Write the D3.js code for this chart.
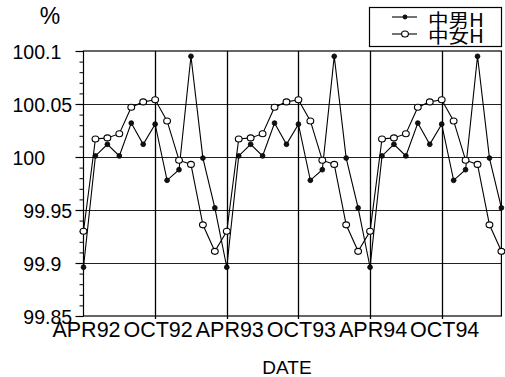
<!DOCTYPE html>
<html>
<head>
<meta charset="utf-8">
<script src="https://cdn.jsdelivr.net/npm/d3@7"></script>
<style>
  html, body { margin: 0; padding: 0; background: #fff; }
  svg { display: block; font-family: "Liberation Sans", Arial, sans-serif; }
</style>
</head>
<body>
<svg id="chart" width="505" height="377"></svg>
<script>
// Monthly index, APR92 .. MAR95 (36 months)
const months = ["APR92","MAY92","JUN92","JUL92","AUG92","SEP92","OCT92","NOV92","DEC92","JAN93","FEB93","MAR93",
                "APR93","MAY93","JUN93","JUL93","AUG93","SEP93","OCT93","NOV93","DEC93","JAN94","FEB94","MAR94",
                "APR94","MAY94","JUN94","JUL94","AUG94","SEP94","OCT94","NOV94","DEC94","JAN95","FEB95","MAR95"];

// 中男H (filled markers)
const maleH = [99.896, 100.001, 100.012, 100.001, 100.032, 100.012, 100.031, 99.978, 99.988, 100.095, 99.999, 99.952,
               99.896, 100.001, 100.012, 100.001, 100.032, 100.012, 100.031, 99.978, 99.988, 100.095, 99.999, 99.952,
               99.896, 100.001, 100.012, 100.001, 100.032, 100.012, 100.031, 99.978, 99.988, 100.095, 99.999, 99.952];

// 中女H (open markers)
const femaleH = [99.930, 100.017, 100.018, 100.022, 100.047, 100.052, 100.054, 100.034, 99.997, 99.993, 99.936, 99.911,
                 99.930, 100.017, 100.018, 100.022, 100.047, 100.052, 100.054, 100.034, 99.997, 99.993, 99.936, 99.911,
                 99.930, 100.017, 100.018, 100.022, 100.047, 100.052, 100.054, 100.034, 99.997, 99.993, 99.936, 99.911];

const xTickMonths = ["APR92","OCT92","APR93","OCT93","APR94","OCT94"];
const yTicks = [99.85, 99.9, 99.95, 100, 100.05, 100.1];
const yTickLabels = ["99.85", "99.9", "99.95", "100", "100.05", "100.1"];
const seriesNames = ["中男H", "中女H"];

const svg = d3.select("#chart");
const L = 83.5, R = 501.4, T = 51, B = 316;

const x = d3.scaleLinear().domain([0, months.length - 1]).range([L, R]);
const y = d3.scaleLinear().domain([99.85, 100.1]).range([B, T]);

const xTickIdx = xTickMonths.map(m => months.indexOf(m));

// horizontal grid
svg.append("g").selectAll("line")
  .data(yTicks.filter(v => v > 99.85 && v < 100.1))
  .join("line")
  .attr("x1", L).attr("x2", R)
  .attr("y1", d => Math.round(y(d)) + 0.5).attr("y2", d => Math.round(y(d)) + 0.5)
  .attr("stroke", "#222").attr("stroke-width", 1);

// vertical grid with small ticks below the frame
svg.append("g").selectAll("line")
  .data(xTickIdx.slice(1))
  .join("line")
  .attr("x1", d => Math.round(x(d)) + 0.5).attr("x2", d => Math.round(x(d)) + 0.5)
  .attr("y1", T).attr("y2", B + 3)
  .attr("stroke", "#000").attr("stroke-width", 1.3);

// frame
svg.append("rect")
  .attr("x", L).attr("y", T).attr("width", R - L).attr("height", B - T)
  .attr("fill", "none").attr("stroke", "#000").attr("stroke-width", 1.2);

// left axis with minor ticks every 0.01
const yAxis = d3.axisLeft(y).tickValues(yTicks).tickSize(8).tickFormat("");
const gy = svg.append("g").attr("transform", `translate(${L},0)`).call(yAxis);
gy.select(".domain").remove();
gy.selectAll(".tick line").attr("stroke", "#000").attr("stroke-width", 1.2);
const minor = d3.range(0, 26).map(i => +(99.85 + i * 0.01).toFixed(2));
svg.append("g").attr("transform", `translate(${L},0)`)
  .call(d3.axisLeft(y).tickValues(minor).tickSize(4).tickFormat(""))
  .call(g => g.select(".domain").remove())
  .selectAll(".tick line").attr("stroke", "#000");

// y tick labels aligned on the decimal point (slightly narrowed glyphs)
const decX = 45;
const yl = svg.append("g").attr("font-size", 21).attr("fill", "#000");
yTickLabels.forEach((lab, i) => {
  const parts = lab.split(".");
  const g = yl.append("g")
    .attr("transform", `translate(${decX},${y(yTicks[i]) + 7.5}) scale(0.93,1)`);
  g.append("text").attr("x", 0).attr("y", 0).attr("text-anchor", "end").text(parts[0]);
  if (parts.length > 1) {
    g.append("text").attr("x", 0).attr("y", 0).attr("text-anchor", "start").text("." + parts[1]);
  }
});

// bottom axis labels
svg.append("g").selectAll("text")
  .data(xTickIdx)
  .join("text")
  .attr("x", (d) => x(d) + 3)
  .attr("y", 337)
  .attr("text-anchor", "middle")
  .attr("font-size", 21.5)
  .text((d, i) => xTickMonths[i]);

// axis titles
svg.append("text").attr("x", 287).attr("y", 374).attr("text-anchor", "middle")
  .attr("font-size", 19).text("DATE");
svg.append("text").attr("x", 50).attr("y", 24).attr("text-anchor", "middle")
  .attr("font-size", 23).text("%");

// series lines
const line = d3.line().x((d, i) => x(i)).y(d => y(d));
svg.append("path").datum(femaleH).attr("d", line)
  .attr("fill", "none").attr("stroke", "#000").attr("stroke-width", 1.1);
svg.append("path").datum(maleH).attr("d", line)
  .attr("fill", "none").attr("stroke", "#000").attr("stroke-width", 1.1);

// markers
svg.append("g").selectAll("ellipse")
  .data(femaleH)
  .join("ellipse")
  .attr("cx", (d, i) => x(i)).attr("cy", d => y(d))
  .attr("rx", 3.4).attr("ry", 3)
  .attr("fill", "#fff").attr("stroke", "#000").attr("stroke-width", 1.1);
svg.append("g").selectAll("circle")
  .data(maleH)
  .join("circle")
  .attr("cx", (d, i) => x(i)).attr("cy", d => y(d))
  .attr("r", 2.4)
  .attr("fill", "#111").attr("stroke", "#000").attr("stroke-width", 0.8);

// legend
const lg = svg.append("g");
lg.append("rect").attr("x", 369.5).attr("y", 7.5).attr("width", 132).attr("height", 39)
  .attr("fill", "#fff").attr("stroke", "#000").attr("stroke-width", 1.2);
const lineRows = [17, 34];
const textRows = [27, 42.5];
seriesNames.forEach((name, i) => {
  const ry = lineRows[i];
  lg.append("line").attr("x1", 392).attr("x2", 417).attr("y1", ry).attr("y2", ry)
    .attr("stroke", "#000").attr("stroke-width", 1.1);
  if (i === 0) {
    lg.append("circle").attr("cx", 405).attr("cy", ry).attr("r", 2.4).attr("fill", "#111");
  } else {
    lg.append("ellipse").attr("cx", 405).attr("cy", ry).attr("rx", 3.4).attr("ry", 3)
      .attr("fill", "#fff").attr("stroke", "#000").attr("stroke-width", 1.1);
  }
  lg.append("text")
    .attr("transform", `translate(428,${textRows[i]}) scale(1.14,1)`)
    .attr("font-size", 18)
    .attr("font-family", "'Noto Sans CJK JP', 'Liberation Sans', sans-serif")
    .text(name);
});
</script>
</body>
</html>
